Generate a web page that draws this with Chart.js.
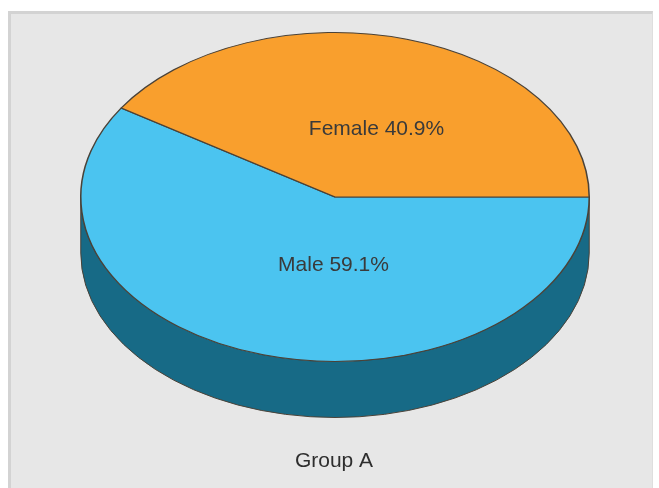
<!DOCTYPE html>
<html>
<head>
<meta charset="utf-8">
<script src="https://cdn.jsdelivr.net/npm/chart.js@4.4.1/dist/chart.umd.min.js"></script>
<style>
  html, body { margin: 0; padding: 0; background: #ffffff; }
  #wrap { position: relative; width: 659px; height: 488px; overflow: hidden; }
  #frame {
    position: absolute; left: 8px; top: 11px; right: 6px; bottom: -4px;
    background: #e7e7e7;
    border-top: 3px solid #d3d3d3; border-left: 3px solid #d3d3d3;
    border-right: 1px solid #dedede;
  }
  #pieChart { position: absolute; left: 0; top: 0; }
</style>
</head>
<body>
<div id="wrap">
  <div id="frame"></div>
  <canvas id="pieChart" width="659" height="488"></canvas>
</div>
<script>
var labels = ["Male", "Female"];
var shares = [59.1, 40.9];
var topColors = ["#4bc4f0", "#f99f2d"];
var sideColors = ["#176a86", "#a8661c"];
var groupName = "Group A";

document.addEventListener("DOMContentLoaded", function () {
    var ctx = document.getElementById('pieChart').getContext('2d');

    // stretch the round pie into a tilted disc
    var xStretch = 255 / 165;
    var depth = 56;
    var labelShiftX = 20;

    var tiltedPie = {
        id: 'tiltedPie',
        beforeDatasetsDraw: function (chart) {
            var arcs = chart.getDatasetMeta(0).data;
            var c = chart.ctx;
            var cx = arcs[0].x, cy = arcs[0].y, r = arcs[0].outerRadius;
            var rx = r * xStretch, ry = r;

            // walls: only the front half (0..PI) shows
            c.save();
            arcs.forEach(function (arc, i) {
                var s = arc.startAngle, e = arc.endAngle;
                while (s < 0) { s += 2 * Math.PI; e += 2 * Math.PI; }
                var a0 = Math.max(s, 0), a1 = Math.min(e, Math.PI);
                if (a1 <= a0) {
                    a0 = Math.max(s - 2 * Math.PI, 0);
                    a1 = Math.min(e - 2 * Math.PI, Math.PI);
                    if (a1 <= a0) return;
                }
                c.beginPath();
                c.ellipse(cx, cy, rx, ry, 0, a0, a1, false);
                c.lineTo(cx + rx * Math.cos(a1), cy + ry * Math.sin(a1) + depth);
                c.ellipse(cx, cy + depth, rx, ry, 0, a1, a0, true);
                c.closePath();
                c.fillStyle = sideColors[i];
                c.fill();
                c.lineWidth = 1;
                c.strokeStyle = '#4a4238';
                c.stroke();
            });
            c.restore();

            c.save();
            c.translate(cx, cy);
            c.scale(xStretch, 1);
            c.translate(-cx, -cy);
        },
        afterDatasetsDraw: function (chart) {
            var c = chart.ctx;
            c.restore();
            var arcs = chart.getDatasetMeta(0).data;
            var cx = arcs[0].x, cy = arcs[0].y;

            c.save();
            c.font = '21px "Liberation Sans", Arial, sans-serif';
            c.fillStyle = '#3a3a3a';
            c.textAlign = 'center';
            c.textBaseline = 'middle';
            arcs.forEach(function (arc, i) {
                var mid = (arc.startAngle + arc.endAngle) / 2;
                var r = arc.outerRadius;
                var x = cx + Math.cos(mid) * r * xStretch * 0.3 + labelShiftX;
                var y = cy + Math.sin(mid) * r * 0.43;
                c.fillText(labels[i] + ' ' + shares[i].toFixed(1) + '%', x, y);
            });
            c.fillStyle = '#2e2e2e';
            c.fillText(groupName, cx - 1, 461);
            c.restore();
        }
    };

    new Chart(ctx, {
        type: 'pie',
        data: {
            labels: labels,
            datasets: [{
                data: shares,
                backgroundColor: topColors,
                borderColor: '#4a4238',
                borderWidth: 1
            }]
        },
        options: {
            responsive: false,
            animation: false,
            rotation: 90,
            layout: { padding: { top: 32, bottom: 126, left: 170, right: 159 } },
            plugins: {
                legend: { display: false },
                tooltip: { enabled: false }
            }
        },
        plugins: [tiltedPie]
    });
});
</script>
</body>
</html>
